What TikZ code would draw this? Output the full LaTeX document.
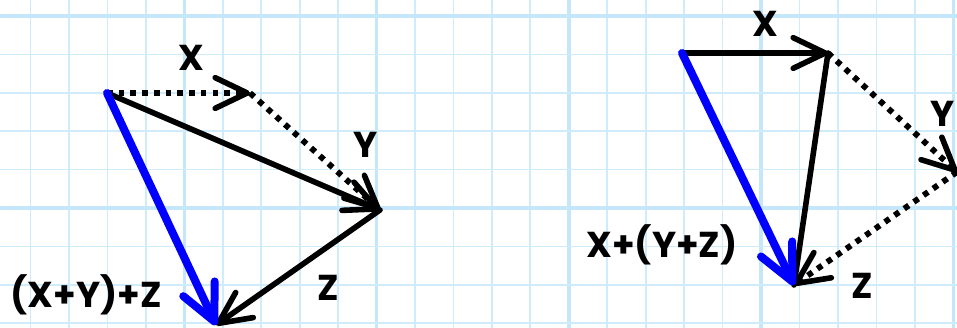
\documentclass[tikz,border=0pt]{standalone}
\usepackage{fontspec}
\setmainfont{Poppins}
\usetikzlibrary{arrows.meta}
\definecolor{gridblue}{RGB}{206,236,252}
\definecolor{gridblueb}{RGB}{196,231,252}
\definecolor{vecblue}{RGB}{0,0,255}
\tikzset{
  thingrid/.style={gridblue, line width=1.3pt},
  thickgrid/.style={gridblueb, line width=2.6pt},
  vec/.style={line width=4.2pt, line cap=round, line join=round,
    -{Straight Barb[length=24pt,width=23pt,round]}},
  dotvec/.style={line width=4.4pt, dash pattern=on 4.2pt off 4.6pt,
    -{Straight Barb[length=24pt,width=23pt,round,line width=4.2pt]}},
  plain/.style={line width=4.2pt, line cap=round},
  sumvec/.style={vecblue, line width=6pt, line cap=round, line join=round,
    -{Straight Barb[length=27pt,width=26pt,round]}},
  lab/.style={font=\fontsize{27}{30}\selectfont\bfseries, anchor=base, inner sep=0pt}
}
\begin{document}
\begin{tikzpicture}[x=0.75pt,y=-0.75pt]
\useasboundingbox (0,0) rectangle (957,328);
\begin{scope}
\clip (0,0) rectangle (957,328);
% grid
\foreach \i in {0,...,25}{
  \pgfmathsetmacro{\xx}{-7.95+38.45*\i}
  \pgfmathtruncatemacro{\m}{mod(\i,5)}
  \ifnum\m=0
    \draw[thickgrid] (\xx,0) -- (\xx,328);
  \else
    \draw[thingrid] (\xx,0) -- (\xx,328);
  \fi
}
\foreach \j in {0,...,9}{
  \pgfmathsetmacro{\yy}{-22.4+38.4*\j}
  \pgfmathtruncatemacro{\m}{mod(\j+4,5)}
  \ifnum\m=0
    \draw[thickgrid] (0,\yy) -- (957,\yy);
  \else
    \draw[thingrid] (0,\yy) -- (957,\yy);
  \fi
}
% left figure
\coordinate (O1) at (107,93);
\coordinate (X1) at (250,93);
\coordinate (Y1) at (380,210);
\coordinate (Z1) at (216,325);
\draw[dotvec] (O1) -- (X1);
\draw[dotvec] (X1) -- (Y1);
\draw[vec] (O1) -- (Y1);
\draw[vec] (Y1) -- (Z1);
\draw[sumvec] (O1) -- (Z1);
\node[lab] (lx1) at (191,71) {X};
\node[lab] (ly1) at (366,157) {Y};
\node[lab] (lz1) at (328,300) {Z};
\node[lab] (ls1) at (86,307) {(X+Y)+Z};
% right figure
\coordinate (O2) at (682,53);
\coordinate (X2) at (828,53);
\coordinate (Y2) at (957,172);
\coordinate (Z2) at (794,285);
\draw[vec] (O2) -- (X2);
\draw[dotvec] (X2) -- (Y2);
\draw[dotvec] (Y2) -- (Z2);
\draw[plain] (X2) -- (Z2);
\draw[sumvec] (O2) -- (Z2);
\node[lab] (lx2) at (765,37) {X};
\node[lab] (ly2) at (943,127) {Y};
\node[lab] (lz2) at (862,298) {Z};
\node[lab] (ls2) at (662,257) {X+(Y+Z)};
\end{scope}
\end{tikzpicture}
\end{document}
